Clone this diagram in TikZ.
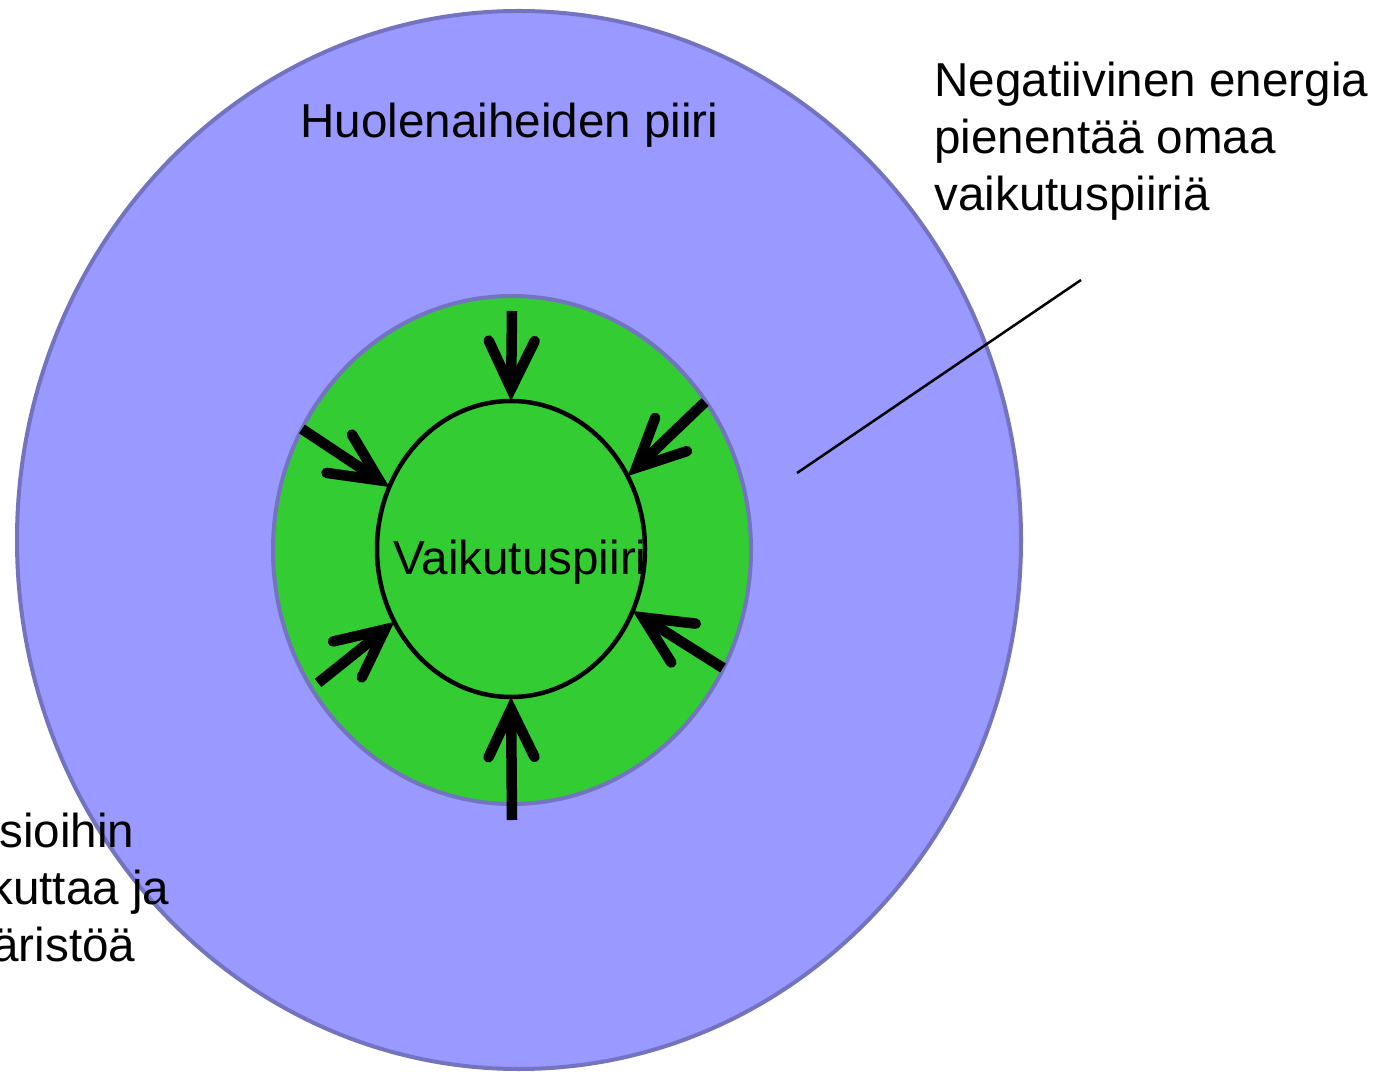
\documentclass[tikz,border=0pt]{standalone}
\usepackage{fontspec}
\setmainfont{Liberation Sans}
\usetikzlibrary{shapes.geometric,arrows.meta}
\definecolor{outerfill}{HTML}{9999FF}
\definecolor{outerline}{HTML}{7373BF}
\definecolor{ringfill}{HTML}{33CC33}
\begin{document}
\begin{tikzpicture}[x=0.5pt,y=-0.5pt,
  zone/.style={ellipse, inner sep=0pt, outer sep=0pt},
  txt/.style={inner sep=0pt, anchor=base west, align=left, font=\fontsize{23.8pt}{28.5pt}\selectfont},
  push/.style={line width=5.25pt, line cap=butt, -{Straight Barb[length=24pt,width=23pt,line cap=round,line join=miter]}},
  leader/.style={line width=1.25pt}]
\useasboundingbox (0,0) rectangle (1387,1074);
\clip (0,0) rectangle (1387,1074);
\fill[white] (0,0) rectangle (1387,1074);
\node[zone, draw=outerline, line width=2pt, fill=outerfill, minimum width=502pt, minimum height=529pt] (huoli) at (519,540) {};
\node[zone, draw=outerline, line width=2pt, fill=ringfill, minimum width=239pt, minimum height=254pt] (ring) at (512,550) {};
\node[zone, draw=black, line width=2.25pt, minimum width=134pt, minimum height=148pt] (inner) at (511,549) {};
\coordinate (t1) at (512,311);
\coordinate (t2) at (302,429);
\coordinate (t3) at (705,402);
\coordinate (t4) at (318,683);
\coordinate (t5) at (723,668);
\coordinate (t6) at (512,820);
\draw[push] (t1) -- (inner.90);
\draw[push] (t2) -- (inner.153.2);
\draw[push] (t3) -- (inner.32.1);
\draw[push] (t4) -- (inner.212.6);
\draw[push] (t5) -- (inner.333.8);
\draw[push] (t6) -- (inner.270);
\node[txt] (huolet) at (300,138) {Huolenaiheiden piiri};
\node[txt] (vaikutus) at (393,575) {Vaikutuspiiri};
\node[txt] (negat) at (934,211) {Negatiivinen energia\\pienentää omaa\\vaikutuspiiriä};
\node[txt] (posit) at (-1,961) {sioihin\\\hspace*{-5pt}kuttaa ja\\\hspace*{-3.5pt}äristöä};
\coordinate (l1) at (797,473);
\coordinate (l2) at (1081,280);
\draw[leader] (l1) -- (l2);
\end{tikzpicture}
\end{document}
